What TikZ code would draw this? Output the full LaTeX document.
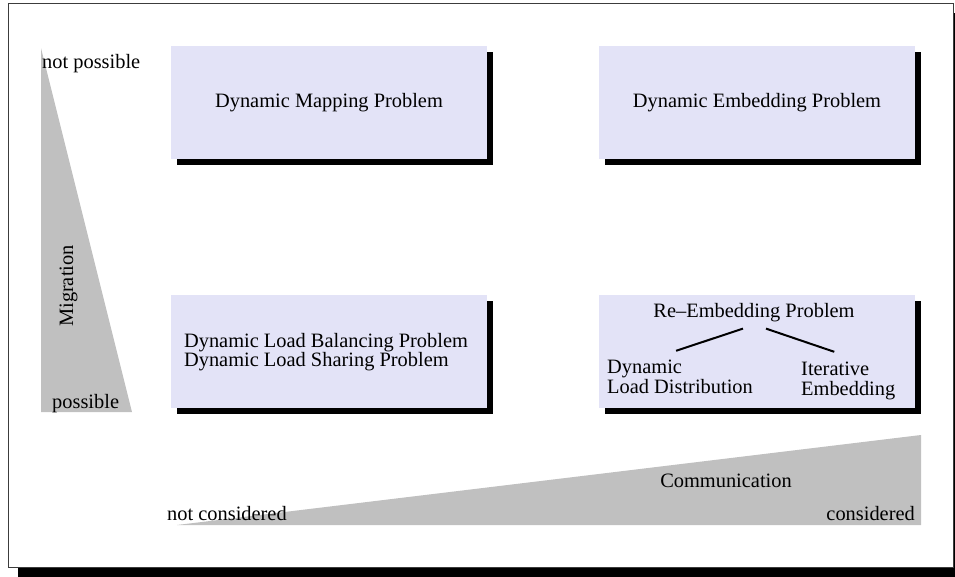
\documentclass[tikz,border=0pt]{standalone}
\usepackage{fontspec}
\setmainfont{Liberation Serif}
\usetikzlibrary{shadows,calc}

\definecolor{boxfill}{RGB}{227,227,247}
\definecolor{wedge}{RGB}{192,192,192}
\definecolor{framecol}{RGB}{60,60,60}

\tikzset{
  problem/.style={fill=boxfill, minimum width=316pt, minimum height=113pt,
    inner sep=0pt, align=center,
    drop shadow={shadow xshift=6pt, shadow yshift=-6pt, fill=black, opacity=1}},
  txt/.style={inner sep=0pt, font=\fontsize{20.4}{19.5}\selectfont},
  branch/.style={line width=2pt}
}

\begin{document}
\begin{tikzpicture}[x=1pt, y=-1pt]
  \useasboundingbox (0,0) rectangle (955,576);

  % page frame with its shadow
  \fill[black] (18,13) rectangle (965,586);
  \filldraw[fill=white, draw=framecol, line width=1pt] (8,3) rectangle (953,567);

  % migration and communication wedges
  \fill[wedge] (41,48) -- (41,412) -- (132,412) -- cycle;
  \fill[wedge] (177,525) -- (921,435) -- (921,525) -- cycle;

  % problem boxes
  \node[problem, txt] (map) at (329,102.5) {Dynamic Mapping Problem};
  \node[problem, txt] (emb) at (757,102.5) {Dynamic Embedding Problem};
  \node[problem] (lb) at (329,351) {};
  \node[problem] (reemb) at (757,351) {};

  % load balancing / load sharing text
  \node[txt, align=left] (lbt) at (326,352) {Dynamic Load Balancing Problem\\Dynamic Load Sharing Problem};

  % re-embedding split (base anchors sit on the last line)
  \node[txt, anchor=base] (reembt) at (754,317) {Re--Embedding Problem};
  \node[txt, anchor=base west, align=left] (dld) at (607,393) {Dynamic\\Load Distribution};
  \node[txt, anchor=base west, align=left] (itemb) at (801,395) {Iterative\\Embedding};
  \draw[branch] ([xshift=-11pt, yshift=-7pt]reembt.south) -- ([xshift=-4pt, yshift=9pt]dld.north);
  \draw[branch] ([xshift=12pt, yshift=-7pt]reembt.south) -- ([xshift=-14pt, yshift=10pt]itemb.north);

  % axis labels
  \node[txt, anchor=base west] (notposs) at (42,68) {not possible};
  \node[txt, anchor=base west] (poss) at (52,408) {possible};
  \node[txt, anchor=base, rotate=90] (migr) at (73,286) {Migration};
  \node[txt, anchor=base] (comm) at (726,487) {Communication};
  \node[txt, anchor=base west] (notcons) at (167,520) {not considered};
  \node[txt, anchor=base east] (cons) at (915,520) {considered};
\end{tikzpicture}
\end{document}
